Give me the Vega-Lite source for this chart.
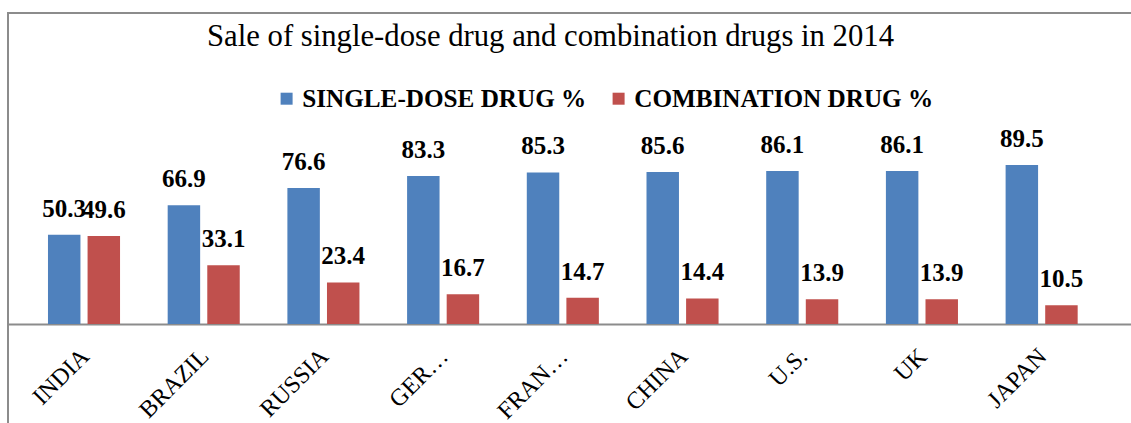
{
  "$schema": "https://vega.github.io/schema/vega-lite/v6.json",
  "width": 1133,
  "height": 420,
  "autosize": {"type": "none"},
  "padding": {"left": 8, "top": 13, "right": -10, "bottom": -10},
  "background": "white",
  "config": {"view": {"stroke": "#8c8c8c", "strokeWidth": 2}},
  "data": {
    "values": [
      {"country": "INDIA", "type": "SINGLE-DOSE DRUG %", "value": 50.3},
      {"country": "INDIA", "type": "COMBINATION DRUG %", "value": 49.6},
      {"country": "BRAZIL", "type": "SINGLE-DOSE DRUG %", "value": 66.9},
      {"country": "BRAZIL", "type": "COMBINATION DRUG %", "value": 33.1},
      {"country": "RUSSIA", "type": "SINGLE-DOSE DRUG %", "value": 76.6},
      {"country": "RUSSIA", "type": "COMBINATION DRUG %", "value": 23.4},
      {"country": "GERMANY", "type": "SINGLE-DOSE DRUG %", "value": 83.3},
      {"country": "GERMANY", "type": "COMBINATION DRUG %", "value": 16.7},
      {"country": "FRANCE", "type": "SINGLE-DOSE DRUG %", "value": 85.3},
      {"country": "FRANCE", "type": "COMBINATION DRUG %", "value": 14.7},
      {"country": "CHINA", "type": "SINGLE-DOSE DRUG %", "value": 85.6},
      {"country": "CHINA", "type": "COMBINATION DRUG %", "value": 14.4},
      {"country": "U.S.", "type": "SINGLE-DOSE DRUG %", "value": 86.1},
      {"country": "U.S.", "type": "COMBINATION DRUG %", "value": 13.9},
      {"country": "UK", "type": "SINGLE-DOSE DRUG %", "value": 86.1},
      {"country": "UK", "type": "COMBINATION DRUG %", "value": 13.9},
      {"country": "JAPAN", "type": "SINGLE-DOSE DRUG %", "value": 89.5},
      {"country": "JAPAN", "type": "COMBINATION DRUG %", "value": 10.5}
    ]
  },
  "encoding": {
    "x": {
      "field": "country",
      "type": "nominal",
      "sort": null,
      "scale": {"paddingInner": 0.398, "paddingOuter": 0.4315, "align": 0.387},
      "axis": {
        "title": "Sale of single-dose drug and combination drugs in 2014",
        "titleFont": "Liberation Serif",
        "titleFontSize": 30.7,
        "titleFontWeight": "normal",
        "titleColor": "black",
        "titleX": 542,
        "titleY": -279,
        "titleAlign": "center",
        "titleBaseline": "alphabetic",
        "orient": "bottom",
        "offset": -109,
        "ticks": false,
        "grid": false,
        "domainColor": "#8c8c8c",
        "domainWidth": 2,
        "labelAngle": -45,
        "labelFont": "Liberation Serif",
        "labelFontSize": 24,
        "labelColor": "black",
        "labelLimit": 89,
        "labelPadding": 20,
        "labelOffset": -7,
        "labelAlign": "right",
        "labelBaseline": "top"
      }
    },
    "xOffset": {
      "field": "type",
      "type": "nominal",
      "sort": ["SINGLE-DOSE DRUG %", "COMBINATION DRUG %"],
      "scale": {"paddingInner": 0.18, "paddingOuter": 0}
    },
    "y": {
      "field": "value",
      "type": "quantitative",
      "scale": {"domain": [-61.4, 175.1], "nice": false},
      "axis": null
    }
  },
  "layer": [
    {
      "mark": {"type": "bar"},
      "encoding": {
        "y2": {"datum": 0},
        "color": {
          "field": "type",
          "type": "nominal",
          "sort": ["SINGLE-DOSE DRUG %", "COMBINATION DRUG %"],
          "scale": {"range": ["#4F81BD", "#C0504D"]},
          "legend": {
            "title": null,
            "orient": "none",
            "legendX": 266,
            "legendY": 73,
            "direction": "horizontal",
            "symbolType": "square",
            "symbolSize": 144,
            "symbolStrokeWidth": 0,
            "labelFont": "Liberation Serif",
            "labelFontWeight": "bold",
            "labelFontSize": 25.2,
            "labelColor": "black",
            "labelOffset": 3,
            "columnPadding": 19,
            "labelLimit": 400,
            "padding": 0
          }
        }
      }
    },
    {
      "mark": {
        "type": "text",
        "font": "Liberation Serif",
        "fontWeight": "bold",
        "fontSize": 25,
        "baseline": "alphabetic",
        "dy": -18,
        "color": "black"
      },
      "encoding": {
        "text": {"field": "value", "type": "quantitative", "format": ".1f"}
      }
    }
  ]
}
